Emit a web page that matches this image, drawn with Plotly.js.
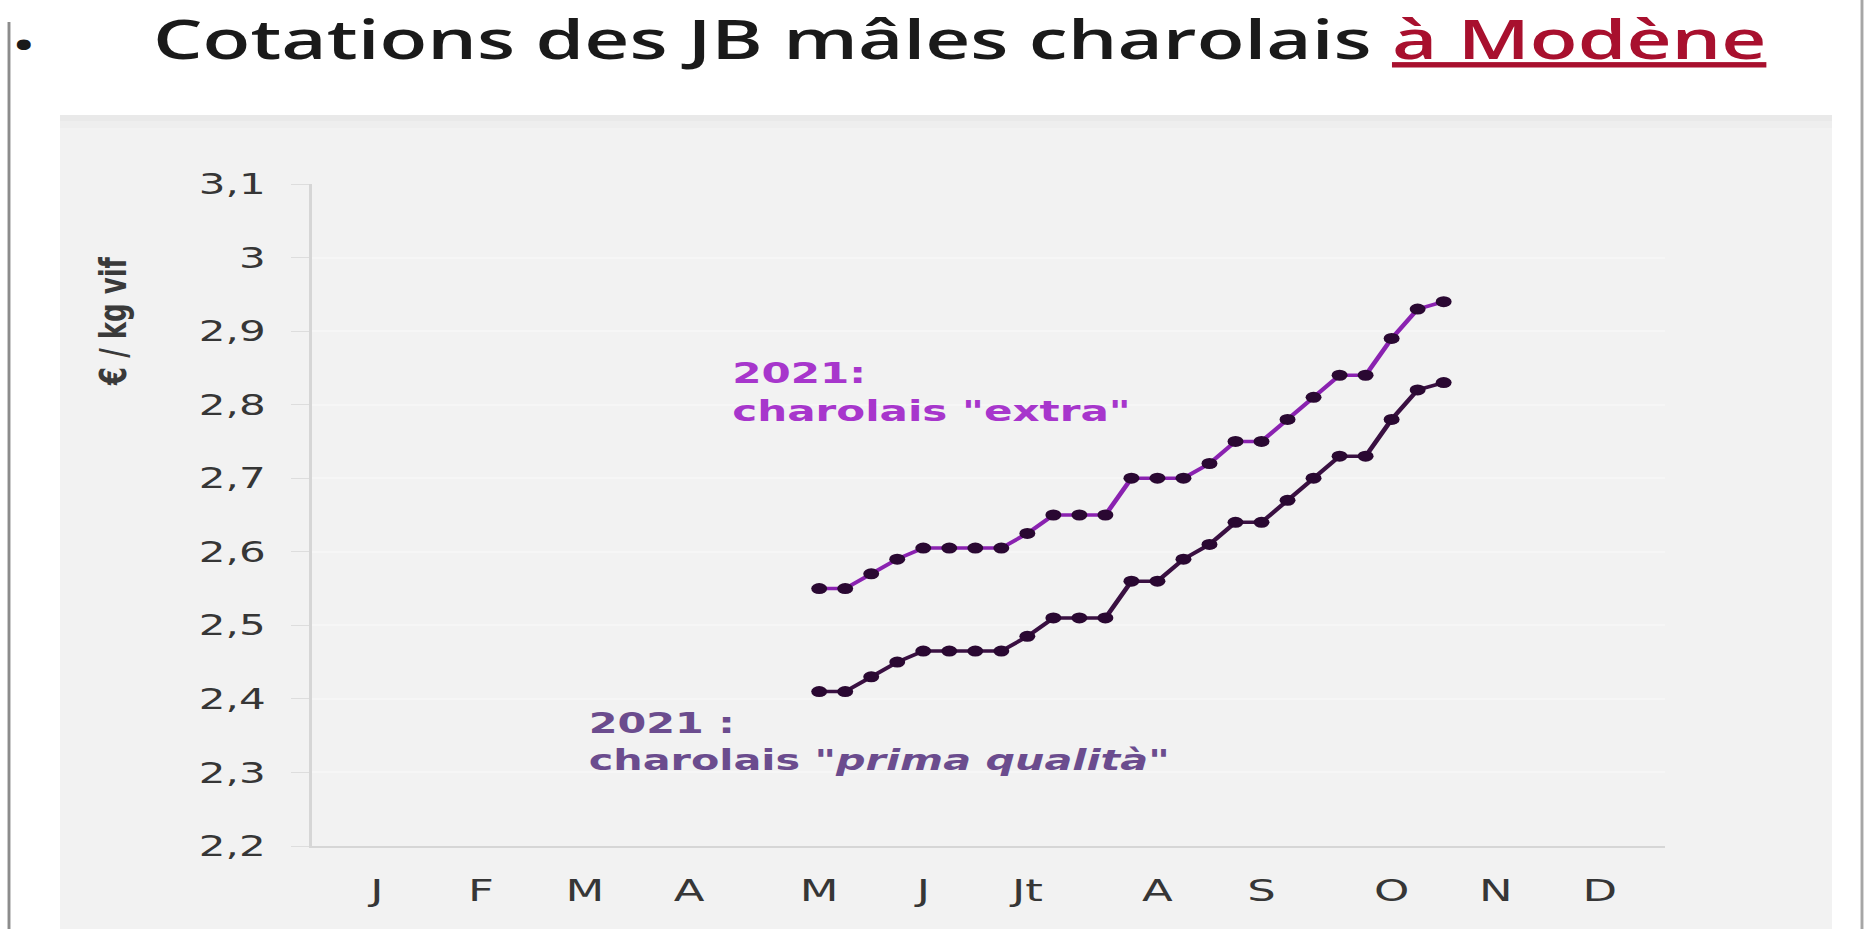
<!DOCTYPE html>
<html>
<head>
<meta charset="utf-8">
<script src="https://cdn.plot.ly/plotly-3.0.1.min.js"></script>
<style>
  html, body { margin: 0; padding: 0; overflow: hidden; background: #ffffff; }
  #chart { width: 1286px; height: 929px; transform: scaleX(1.4502); transform-origin: 0 0; }
</style>
</head>
<body>
<div id="chart"></div>
<script>
// ---- data ----
const months = ['J', 'F', 'M', 'A', 'M', 'J', 'Jt', 'A', 'S', 'O', 'N', 'D'];
const monthTickDates = ['2021-01-07', '2021-02-04', '2021-03-04', '2021-04-01', '2021-05-06', '2021-06-03',
                        '2021-07-01', '2021-08-05', '2021-09-02', '2021-10-07', '2021-11-04', '2021-12-02'];
const weeks = ['2021-05-06', '2021-05-13', '2021-05-20', '2021-05-27',
               '2021-06-03', '2021-06-10', '2021-06-17', '2021-06-24',
               '2021-07-01', '2021-07-08', '2021-07-15', '2021-07-22', '2021-07-29',
               '2021-08-05', '2021-08-12', '2021-08-19', '2021-08-26',
               '2021-09-02', '2021-09-09', '2021-09-16', '2021-09-23', '2021-09-30',
               '2021-10-07', '2021-10-14', '2021-10-21'];
const extra = [2.55, 2.55, 2.57, 2.59, 2.605, 2.605, 2.605, 2.605, 2.625, 2.65, 2.65, 2.65, 2.70,
               2.70, 2.70, 2.72, 2.75, 2.75, 2.78, 2.81, 2.84, 2.84, 2.89, 2.93, 2.94];
const prima = [2.41, 2.41, 2.43, 2.45, 2.465, 2.465, 2.465, 2.465, 2.485, 2.51, 2.51, 2.51, 2.56,
               2.56, 2.59, 2.61, 2.64, 2.64, 2.67, 2.70, 2.73, 2.73, 2.78, 2.82, 2.83];
const yTickVals = [2.2, 2.3, 2.4, 2.5, 2.6, 2.7, 2.8, 2.9, 3.0, 3.1];
const yTickText = ['2,2', '2,3', '2,4', '2,5', '2,6', '2,7', '2,8', '2,9', '3', '3,1'];
const titleMain = 'Cotations des JB mâles charolais ';
const titlePlace = 'à Modène';
const yTitle = '€ / kg vif';
const labelExtra = '2021:<br>charolais "extra"';
const labelPrima = '2021 :<br>charolais "<i>prima qualità</i>"';

// ---- layout geometry (internal px, before horizontal stretch) ----
const K = 1.4502;
const W = 1286, H = 929;
const M = { l: 215, r: 138, t: 184, b: 83 };
const plotW = W - M.l - M.r, plotH = H - M.t - M.b;
const px = v => (v - M.l) / plotW;          // internal x px -> paper
const fx = v => px(v / K);                  // full-size x px -> paper
const py = v => (H - M.b - v) / plotH;      // y px -> paper

const traces = [
  {
    x: weeks, y: extra, type: 'scatter', mode: 'lines+markers', name: 'extra',
    line: { color: '#8a22b0', width: 3.5 },
    marker: { color: '#2a0832', size: 11 }
  },
  {
    x: weeks, y: prima, type: 'scatter', mode: 'lines+markers', name: 'prima qualità',
    line: { color: '#3a1042', width: 3.5 },
    marker: { color: '#2a0832', size: 11 }
  }
];

const layout = {
  width: W, height: H,
  margin: M,
  paper_bgcolor: '#ffffff',
  plot_bgcolor: 'rgba(0,0,0,0)',
  showlegend: false,
  title: {
    text: titleMain + '<span style="color:#a8102e"><u>' + titlePlace + '</u></span>',
    font: { family: '"Open Sans", Lato, sans-serif', size: 54, color: '#1a1a1a', weight: 600 },
    xref: 'container', x: (153 / K) / W, xanchor: 'left',
    yref: 'container', y: 1 - 40 / H, yanchor: 'middle'
  },
  xaxis: {
    type: 'date',
    range: ['2020-12-20 12:00', '2021-12-19 12:00'],
    tickmode: 'array', tickvals: monthTickDates, ticktext: months,
    ticks: '', showgrid: false, zeroline: false,
    showline: true, linecolor: '#d6d6d6', linewidth: 2,
    tickfont: { family: '"DejaVu Sans", sans-serif', size: 31, color: '#363636' },
    ticklabelstandoff: 16,
    fixedrange: true
  },
  yaxis: {
    range: [2.2, 3.1],
    tickmode: 'array', tickvals: yTickVals, ticktext: yTickText,
    ticks: 'outside', ticklen: 12, tickcolor: '#dddddd', tickwidth: 1,
    showgrid: true, gridcolor: '#f6f6f6', gridwidth: 2, zeroline: false,
    showline: true, linecolor: '#d6d6d6', linewidth: 2,
    tickfont: { family: '"DejaVu Sans", sans-serif', size: 29, color: '#363636' },
    ticklabelstandoff: 12,
    fixedrange: true
  },
  shapes: [
    { type: 'rect', layer: 'below', xref: 'paper', yref: 'paper',
      x0: fx(60), x1: fx(1832), y0: py(929), y1: py(115),
      fillcolor: '#f2f2f2', line: { width: 0 } },
    { type: 'rect', layer: 'below', xref: 'paper', yref: 'paper',
      x0: fx(60), x1: fx(1832), y0: py(121), y1: py(115),
      fillcolor: '#e9e9e9', line: { width: 0 } },
    { type: 'rect', layer: 'below', xref: 'paper', yref: 'paper',
      x0: fx(60), x1: fx(1832), y0: py(128), y1: py(121),
      fillcolor: '#eeeeee', line: { width: 0 } },
    { type: 'line', layer: 'below', xref: 'paper', yref: 'paper',
      x0: fx(9), x1: fx(9), y0: py(22), y1: py(929),
      line: { color: '#8c8c8c', width: 2 } },
    { type: 'line', layer: 'below', xref: 'paper', yref: 'paper',
      x0: fx(1862), x1: fx(1862), y0: py(0), y1: py(929),
      line: { color: '#a6a6a6', width: 2 } }
  ],
  annotations: [
    { text: '•', xref: 'paper', yref: 'paper', x: fx(24), y: py(44),
      xanchor: 'center', yanchor: 'middle', showarrow: false,
      font: { family: '"Open Sans", sans-serif', size: 34, color: '#1a1a1a', weight: 700 } },
    { text: yTitle, xref: 'paper', yref: 'paper', x: fx(113), y: py(321),
      xanchor: 'center', yanchor: 'middle', textangle: -90, showarrow: false,
      font: { family: '"DejaVu Sans", sans-serif', size: 26, color: '#3a3a3a', weight: 'bold' } },
    { text: labelExtra, xref: 'paper', yref: 'paper', x: fx(729), y: py(392),
      xanchor: 'left', yanchor: 'middle', align: 'left', showarrow: false,
      font: { family: '"DejaVu Sans", sans-serif', size: 29, color: '#a736cc', weight: 'bold' } },
    { text: labelPrima, xref: 'paper', yref: 'paper', x: fx(586), y: py(742),
      xanchor: 'left', yanchor: 'middle', align: 'left', showarrow: false,
      font: { family: '"DejaVu Sans", sans-serif', size: 28.5, color: '#6b4c8e', weight: 'bold' } }
  ]
};

Plotly.newPlot('chart', traces, layout, { displayModeBar: false, staticPlot: true });
</script>
</body>
</html>
